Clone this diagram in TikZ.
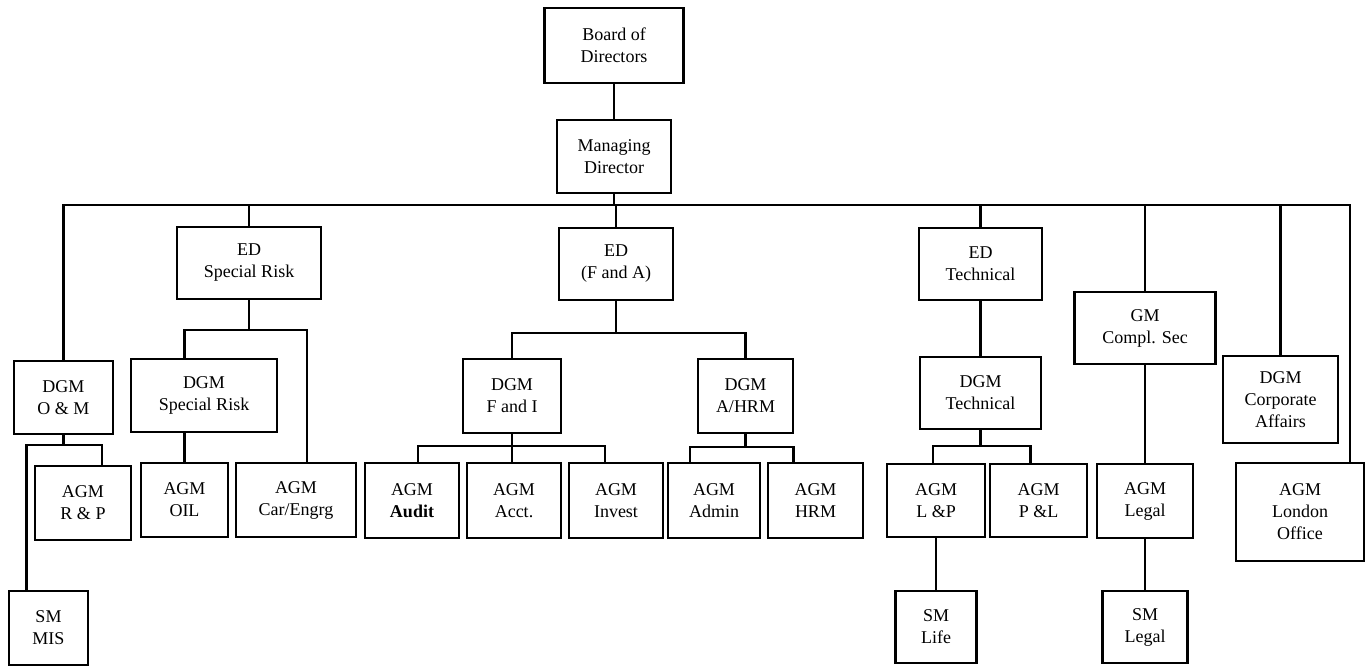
\documentclass[tikz,border=0pt]{standalone}
\usepackage{fontspec}
\setmainfont{Liberation Serif}
\usetikzlibrary{positioning,calc}

\begin{document}
\begin{tikzpicture}[x=1pt, y=-1pt, line width=2.3pt, font=\fontsize{18}{22}\selectfont]
\tikzstyle{post}=[draw=black, line width=2.4pt, fill=white, align=center, inner sep=2pt]
\useasboundingbox (0,0) rectangle (1366,666);
% top
\node[post, minimum width=139, minimum height=75] (board) at (614,45.5) {Board of\\Directors};
\node[post, minimum width=114, minimum height=73] (md) at (614,156.5) {Managing\\Director};
% executive directors and GM
\node[post, minimum width=144, minimum height=72] (edsr) at (249,263) {ED\\Special Risk};
\node[post, minimum width=114, minimum height=72] (edfa) at (616,264) {ED\\(F and A)};
\node[post, minimum width=123, minimum height=72] (edtech) at (980.5,264) {ED\\Technical};
\node[post, minimum width=141, minimum height=72] (gmcs) at (1145,328) {GM\\Compl. Sec};
% deputy GMs
\node[post, minimum width=99, minimum height=73] (dgmom) at (63.5,397.5) {DGM\\O \& M};
\node[post, minimum width=146, minimum height=73] (dgmsr) at (204,395.5) {DGM\\Special Risk};
\node[post, minimum width=98, minimum height=74] (dgmfi) at (512,396) {DGM\\F and I};
\node[post, minimum width=95, minimum height=74] (dgmhrm) at (745.5,396) {DGM\\A/HRM};
\node[post, minimum width=121, minimum height=72] (dgmtech) at (980.5,393) {DGM\\Technical};
\node[post, minimum width=115, minimum height=87] (dgmca) at (1280.5,399.5) {DGM\\Corporate\\Affairs};
% assistant GMs
\node[post, minimum width=96, minimum height=74] (agmrp) at (83,503) {AGM\\R \& P};
\node[post, minimum width=87, minimum height=74] (agmoil) at (184.5,500) {AGM\\OIL};
\node[post, minimum width=120, minimum height=74] (agmcar) at (296,500) {AGM\\Car/Engrg};
\node[post, minimum width=94, minimum height=75] (agmaudit) at (412,500.5) {AGM\\\textbf{Audit}};
\node[post, minimum width=94, minimum height=75] (agmacct) at (514,500.5) {AGM\\Acct.};
\node[post, minimum width=94, minimum height=75] (agminv) at (616,500.5) {AGM\\Invest};
\node[post, minimum width=92, minimum height=75] (agmadmin) at (714,500.5) {AGM\\Admin};
\node[post, minimum width=95, minimum height=75] (agmhrm) at (815.5,500.5) {AGM\\HRM};
\node[post, minimum width=98, minimum height=73] (agmlp) at (936,500.5) {AGM\\L \&P};
\node[post, minimum width=97, minimum height=73] (agmpl) at (1038.5,500.5) {AGM\\P \&L};
\node[post, minimum width=96, minimum height=74] (agmlegal) at (1145,501) {AGM\\Legal};
\node[post, minimum width=128, minimum height=98] (agmlon) at (1300,512) {AGM\\London\\Office};
% senior managers
\node[post, minimum width=79, minimum height=74] (smmis) at (48.5,628) {SM\\MIS};
\node[post, minimum width=81, minimum height=72] (smlife) at (936,627) {SM\\Life};
\node[post, minimum width=85, minimum height=72] (smlegal) at (1145,627) {SM\\Legal};

% main bus
\coordinate (busR) at (1350,205);
\draw (dgmom.north) |- (busR) -- (busR |- agmlon.north);
\foreach \n in {md.south, edsr.north, edfa.north, edtech.north, gmcs.north, dgmca.north}
  \draw (\n) -- (\n |- busR);
\path
(board) edge (md)
(edtech) edge (dgmtech)
(gmcs) edge (agmlegal)
(agmlegal) edge (smlegal)
(agmlp) edge (smlife);

% special risk
\draw (edsr.south) -- ++(0,30) coordinate (srbus);
\draw (agmoil.north |- dgmsr.north) |- (srbus) -| ([xshift=11pt]agmcar.north);
\draw (dgmsr.south -| agmoil.north) -- (agmoil.north);
% O and M
\draw (dgmom.south) -- ++(0,10) coordinate (ombus);
\draw ([xshift=-22pt]smmis.north) |- (ombus) -| ([xshift=19pt]agmrp.north);
% F and A
\draw (edfa.south) -- ++(0,32) coordinate (fabus);
\draw (dgmfi.north) |- (fabus) -| (dgmhrm.north);
\draw (dgmfi.south) -- ++(0,12) coordinate (fibus);
\draw ([xshift=6pt]agmaudit.north) |- (fibus) -| ([xshift=-11pt]agminv.north);
\draw (fibus) -- (fibus |- agmacct.north);
\draw (dgmhrm.south) -- ++(0,13) coordinate (hrmbus);
\draw ([xshift=-24pt]agmadmin.north) |- (hrmbus) -| ([xshift=-22pt]agmhrm.north);
% technical
\draw (dgmtech.south) -- ++(0,16) coordinate (techbus);
\draw ([xshift=-3pt]agmlp.north) |- (techbus) -| ([xshift=-8pt]agmpl.north);
\end{tikzpicture}
\end{document}
